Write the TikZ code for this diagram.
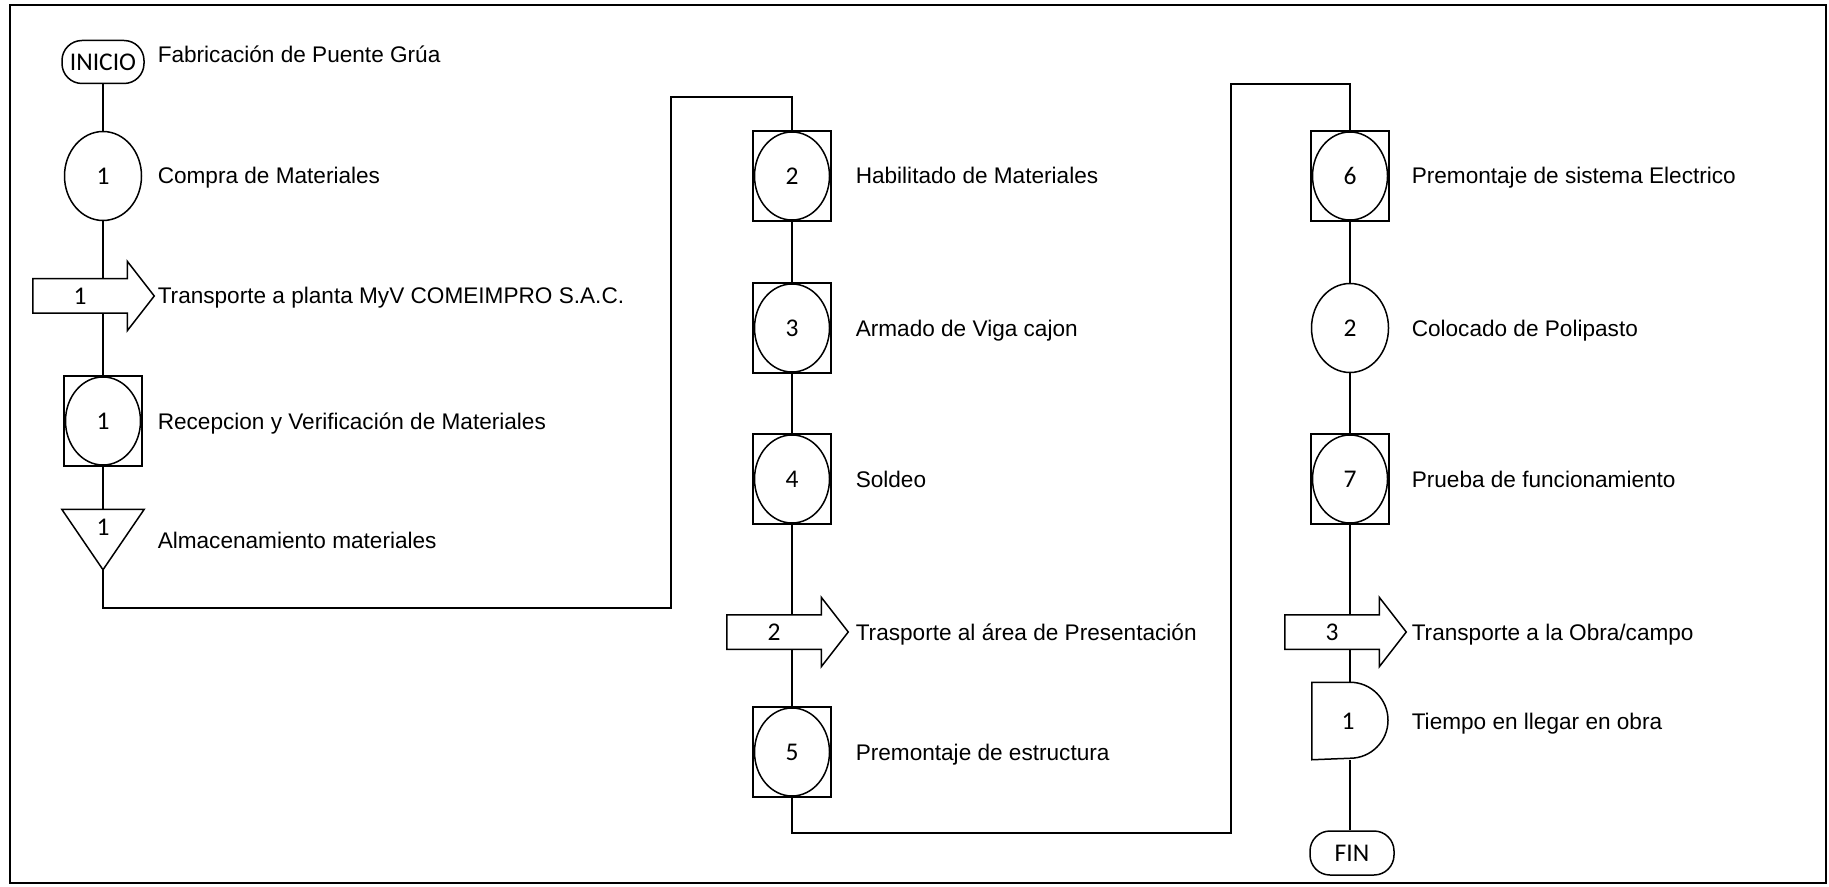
\documentclass[tikz,border=0pt]{standalone}
\usepackage{fontspec}
\setmainfont{Liberation Sans}
\newfontfamily\numfont{Carlito}
\usetikzlibrary{calc,shapes.geometric}
\begin{document}
\begin{tikzpicture}[x=0.5pt,y=-0.5pt,line width=0.75pt,
  lbl/.style={anchor=base west,inner sep=0,font=\fontsize{11.3}{13}\selectfont},
  num/.style={font=\numfont\fontsize{12.75}{14}\selectfont},
  term/.style={draw,rounded corners=10pt,minimum width=41pt,minimum height=21.5pt,inner sep=0,num},
  oper/.style={draw,ellipse,minimum width=38.5pt,minimum height=44.5pt,inner sep=0,num,fill=white},
  sqbox/.style={draw,rectangle,line width=0.9pt,minimum width=39pt,minimum height=45pt,inner sep=0,fill=white},
  inner/.style={draw,ellipse,minimum width=37.5pt,minimum height=44pt,inner sep=0,num},
  tbody/.style={rectangle,minimum width=46.5pt,minimum height=16.5pt,inner sep=0,num},
  shp/.style={draw,fill=white},
  conn/.style={draw,line width=0.75pt}
]
\useasboundingbox (0,0) rectangle (1829,887);
\draw[line width=1.2pt] (10,5) rectangle (1826,883);

% ---------- column 1 ----------
\node[term] (ini) at (103,62) {INICIO};
\node[lbl] (lini) at (157,63) {Fabricación de Puente Grúa};
\node[oper] (c1) at (103,176) {1};
\node[lbl] (lc1) at (157,184) {Compra de Materiales};
\node[tbody] (t1) at (80,296) {};
\node[sqbox] (b1) at (103,421) {};
\node[inner] (b1c) at (b1) {1};
\node[lbl] (lb1) at (157,429) {Recepcion y Verificación de Materiales};
\node[rectangle,minimum width=40.5pt,minimum height=29.5pt,inner sep=0] (s1) at (103,539.5) {};
\coordinate (r1a) at (671,608);
\coordinate (r1b) at (671,97);

% ---------- column 2 ----------
\node[sqbox] (b2) at (792,176) {};
\node[inner] (b2c) at (b2) {2};
\node[lbl] (lb2) at (855,184) {Habilitado de Materiales};
\node[sqbox] (b3) at (792,328) {};
\node[inner] (b3c) at (b3) {3};
\node[lbl] (lb3) at (855,336) {Armado de Viga cajon};
\node[sqbox] (b4) at (792,479) {};
\node[inner] (b4c) at (b4) {4};
\node[lbl] (lb4) at (855,487) {Soldeo};
\node[tbody] (t2) at (774,632) {};
\node[sqbox] (b5) at (792,752) {};
\node[inner] (b5c) at (b5) {5};
\node[lbl] (lb5) at (855,760) {Premontaje de estructura};
\coordinate (r2a) at (1231,833);
\coordinate (r2b) at (1231,84);

% ---------- column 3 ----------
\node[sqbox] (b6) at (1350,176) {};
\node[inner] (b6c) at (b6) {6};
\node[lbl] (lb6) at (1411,184) {Premontaje de sistema Electrico};
\node[oper] (c2) at (1350,328) {2};
\node[lbl] (lc2) at (1411,336) {Colocado de Polipasto};
\node[sqbox] (b7) at (1350,479) {};
\node[inner] (b7c) at (b7) {7};
\node[lbl] (lb7) at (1411,487) {Prueba de funcionamiento};
\node[tbody] (t3) at (1332,632) {};
\node[rectangle,minimum width=37.5pt,minimum height=38pt,inner sep=0] (d1) at (1350,721) {};
\node[term,minimum width=42pt,minimum height=22pt] (fin) at (1352,853) {FIN};

% ---------- connectors ----------
\draw[conn] (ini.south) -- (c1.north);
\draw[conn] (c1.south) -- (c1.south |- t1.north);
\draw[conn] (b1.north |- t1.south) -- (b1.north);
\draw[conn] (b1.south) -- (s1.north);
\draw[conn] (s1.south) |- (r1a) -- (r1b) -| (b2.north);
\draw[conn] (b2.south) -- (b3.north);
\draw[conn] (b3.south) -- (b4.north);
\draw[conn] (b4.south) -- (b4.south |- t2.north);
\draw[conn] (b5.north |- t2.south) -- (b5.north);
\draw[conn] (b5.south) |- (r2a) -- (r2b) -| (b6.north);
\draw[conn] (b6.south) -- (c2.north);
\draw[conn] (c2.south) -- (b7.north);
\draw[conn] (b7.south) -- (b7.south |- t3.north);
\draw[conn] (d1.north |- t3.south) -- (d1.north);
\draw[conn] (d1.south) -- (d1.south |- fin.north);

% ---------- shapes drawn over lines ----------
\foreach \t in {t1,t2,t3}{
  \draw[shp] (\t.north west) -- (\t.north east) -- ++(0,-17.5) -- ($(\t.east)+(27,0)$)
    -- ($(\t.south east)+(0,17.5)$) -- (\t.south east) -- (\t.south west) -- cycle;
}
\node[num] (t1n) at (t1) {1};
\node[num] (t2n) at (t2) {2};
\node[num] (t3n) at (t3) {3};
\node[lbl] (lt1) at (157,304) {Transporte a planta MyV COMEIMPRO S.A.C.};
\node[lbl] (lt2) at (855,640) {Trasporte al área de Presentación};
\node[lbl] (lt3) at (1411,640) {Transporte a la Obra/campo};

\draw[shp] (s1.north west) -- (s1.north east) -- (s1.south) -- cycle;
\node[num] (s1n) at (103,527) {1};
\node[lbl] (ls1) at (157,548) {Almacenamiento materiales};

\draw[shp] (d1.north west) -- (d1.north) arc[start angle=90,end angle=-90,radius=19pt] -- (d1.south west) -- cycle;
\node[num] (d1n) at (1348,721) {1};
\node[lbl] (ld1) at (1411,729) {Tiempo en llegar en obra};
\end{tikzpicture}
\end{document}
